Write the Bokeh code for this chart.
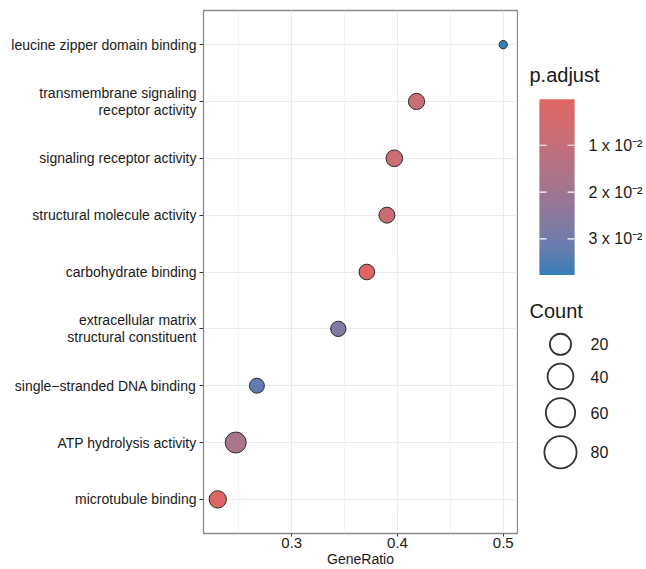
import numpy as np
from bokeh.plotting import figure
from bokeh.models import Range1d, FactorRange, FixedTicker, ColumnDataSource
from bokeh.layouts import row
from bokeh.transform import linear_cmap
from bokeh.core.properties import value
from bokeh.embed import file_html
from bokeh.resources import INLINE

# ---------------- data (top to bottom as shown) ----------------
descriptions = [
    "leucine zipper domain binding",
    "transmembrane signaling\nreceptor activity",
    "signaling receptor activity",
    "structural molecule activity",
    "carbohydrate binding",
    "extracellular matrix\nstructural constituent",
    "single\u2212stranded DNA binding",
    "ATP hydrolysis activity",
    "microtubule binding",
]
gene_ratio = [0.500, 0.418, 0.397, 0.390, 0.371, 0.344, 0.267, 0.247, 0.230]
counts = [7, 44, 47, 42, 40, 38, 36, 81, 51]
p_adjust = [0.0377, 0.0078, 0.0073, 0.0080, 0.0002, 0.0272, 0.0325, 0.0171, 0.0010]

x_ticks = [0.3, 0.4, 0.5]
x_minor = [0.25, 0.35, 0.45]
cbar_ticks = [0.01, 0.02, 0.03]
cbar_labels = ["1 x 10\u207b\u00b2", "2 x 10\u207b\u00b2", "3 x 10\u207b\u00b2"]
count_breaks = [20, 40, 60, 80]

FONT = "Liberation Sans"
TXT = "#1a1a1a"

# ---------------- colour gradient (Lab interpolation) ----------------
def _lin(c):
    return c / 12.92 if c <= 0.04045 else ((c + 0.055) / 1.055) ** 2.4

def _gam(c):
    c = 12.92 * c if c <= 0.0031308 else 1.055 * c ** (1 / 2.4) - 0.055
    return min(max(c, 0.0), 1.0)

def hex_to_lab(h):
    r, g, b = [_lin(int(h[i:i + 2], 16) / 255) for i in (1, 3, 5)]
    X = (0.4124564 * r + 0.3575761 * g + 0.1804375 * b) / 0.95047
    Y = 0.2126729 * r + 0.7151522 * g + 0.0721750 * b
    Z = (0.0193339 * r + 0.1191920 * g + 0.9503041 * b) / 1.08883
    d = 6 / 29
    f = lambda t: t ** (1 / 3) if t > d ** 3 else t / (3 * d * d) + 4 / 29
    return (116 * f(Y) - 16, 500 * (f(X) - f(Y)), 200 * (f(Y) - f(Z)))

def lab_to_hex(L, a, b):
    d = 6 / 29
    fy = (L + 16) / 116
    fx = fy + a / 500
    fz = fy - b / 200
    fi = lambda t: t ** 3 if t > d else 3 * d * d * (t - 4 / 29)
    X, Y, Z = 0.95047 * fi(fx), fi(fy), 1.08883 * fi(fz)
    r = 3.2404542 * X - 1.5371385 * Y - 0.4985314 * Z
    g = -0.9692660 * X + 1.8760108 * Y + 0.0415560 * Z
    bb = 0.0556434 * X - 0.2040259 * Y + 1.0572252 * Z
    return "#%02x%02x%02x" % tuple(int(round(_gam(c) * 255)) for c in (r, g, bb))

low_col, high_col = "#e06663", "#327eba"
l0, l1 = hex_to_lab(low_col), hex_to_lab(high_col)
palette = [lab_to_hex(*[l0[k] + (l1[k] - l0[k]) * i / 255 for k in range(3)]) for i in range(256)]

pmin, pmax = min(p_adjust), max(p_adjust)
color_map = linear_cmap("padj", palette, low=pmin, high=pmax)

# ---------------- size scales ----------------
def point_size(c):          # outer diameter in px
    return 4.0 + 2.0 * np.sqrt(c)

def key_size(c):
    return 12.0 + 2.46 * np.sqrt(c)

# ---------------- main panel ----------------
FRAME_TOP, FRAME_BOTTOM = 10, 534
factors = descriptions[::-1]
span = max(gene_ratio) - min(gene_ratio)
xlo, xhi = min(gene_ratio) - 0.05 * span, max(gene_ratio) + 0.05 * span

src = ColumnDataSource(dict(
    desc=descriptions, ratio=gene_ratio, count=counts, padj=p_adjust,
    psize=[point_size(c) - 1.0 for c in counts],
))

p = figure(width=518, height=569, x_range=Range1d(xlo, xhi),
           y_range=FactorRange(factors=factors, range_padding=0.1,
                               range_padding_units="absolute"),
           output_backend="svg", toolbar_location=None, title=None,
           min_border_left=203, min_border_right=1, min_border_top=FRAME_TOP,
           min_border_bottom=0)

p.scatter(x="ratio", y="desc", size="psize", source=src,
          fill_color=color_map, line_color="#2b2b2b", line_width=1.0)

p.outline_line_color = "#8a8a8a"
p.outline_line_width = 1.3

p.xaxis.ticker = FixedTicker(ticks=x_ticks, minor_ticks=x_minor)
p.xaxis.axis_label = "GeneRatio"
p.xaxis.axis_label_text_font = FONT
p.xaxis.axis_label_text_font_style = "normal"
p.xaxis.axis_label_text_font_size = "14px"
p.xaxis.axis_label_text_color = TXT
p.xaxis.axis_label_standoff = 0
p.xaxis.major_label_text_font_size = "15px"
p.xaxis.major_label_standoff = 0
p.xaxis.major_tick_out = 3
p.xaxis.minor_tick_line_color = None

p.yaxis.major_label_text_font_size = "14px"
p.yaxis.major_label_text_line_height = 1.05
p.yaxis.major_label_standoff = 3
p.yaxis.major_tick_out = 4

for ax in (p.xaxis, p.yaxis):
    ax.axis_line_color = None
    ax.major_tick_in = 0
    ax.major_tick_line_color = "#333333"
    ax.major_label_text_font = FONT
    ax.major_label_text_color = TXT

p.xgrid.grid_line_color = "#ebebeb"
p.xgrid.grid_line_width = 1.1
p.xgrid.minor_grid_line_color = "#ebebeb"
p.xgrid.minor_grid_line_width = 0.6
p.ygrid.grid_line_color = "#ebebeb"
p.ygrid.grid_line_width = 1.1

# ---------------- legend panel (pixel coordinates) ----------------
q = figure(width=128, height=569, x_range=Range1d(0, 128),
           y_range=Range1d(FRAME_BOTTOM, FRAME_TOP),
           output_backend="svg", toolbar_location=None, title=None,
           min_border_left=0, min_border_right=0, min_border_top=FRAME_TOP,
           min_border_bottom=569 - FRAME_BOTTOM,
           x_axis_location=None, y_axis_location=None, outline_line_color=None)
q.grid.visible = False

# colour bar
BAR_L, BAR_R, BAR_TOP, BAR_H = 21, 56, 99, 176
n = 88
step = BAR_H / n
vals = [pmin + (i + 0.5) / n * (pmax - pmin) for i in range(n)]
tops = [BAR_TOP + i * step for i in range(n)]
bots = [min(t + step + 1.0, BAR_TOP + BAR_H) for t in tops]
q.quad(left=BAR_L, right=BAR_R, top="t", bottom="b",
       source=ColumnDataSource(dict(padj=vals, t=tops, b=bots)),
       fill_color=color_map, line_color=None)

tick_y = [BAR_TOP + (t - pmin) / (pmax - pmin) * BAR_H for t in cbar_ticks]
q.segment(x0=BAR_L, x1=BAR_L + 7, y0=tick_y, y1=tick_y, line_color="white", line_width=1.2)
q.segment(x0=BAR_R - 7, x1=BAR_R, y0=tick_y, y1=tick_y, line_color="white", line_width=1.2)
q.text(x=[70] * 3, y=tick_y, text=cbar_labels, text_font=value(FONT),
       text_font_size="16px", text_baseline="middle", text_color=TXT)

q.text(x=[11], y=[75], text=["p.adjust"], text_font=value(FONT),
       text_font_size="20px", text_baseline="middle", text_color=TXT)

# size legend
q.text(x=[11], y=[311.5], text=["Count"], text_font=value(FONT),
       text_font_size="20px", text_baseline="middle", text_color=TXT)

key_d = [key_size(c) for c in count_breaks]
key_y = []
top = 333.0
for d in key_d:
    key_y.append(top + d / 2)
    top += d + 7
q.scatter(x=[42] * len(count_breaks), y=key_y, size=[d - 1.8 for d in key_d],
          fill_color=None, line_color="#333333", line_width=1.8)
q.text(x=[72] * len(count_breaks), y=key_y, text=[str(b) for b in count_breaks],
       text_font=value(FONT), text_font_size="16px", text_baseline="middle",
       text_color=TXT)

layout = row(p, q)
with open("out.html", "w", encoding="utf-8") as fh:
    fh.write(file_html(layout, INLINE))
